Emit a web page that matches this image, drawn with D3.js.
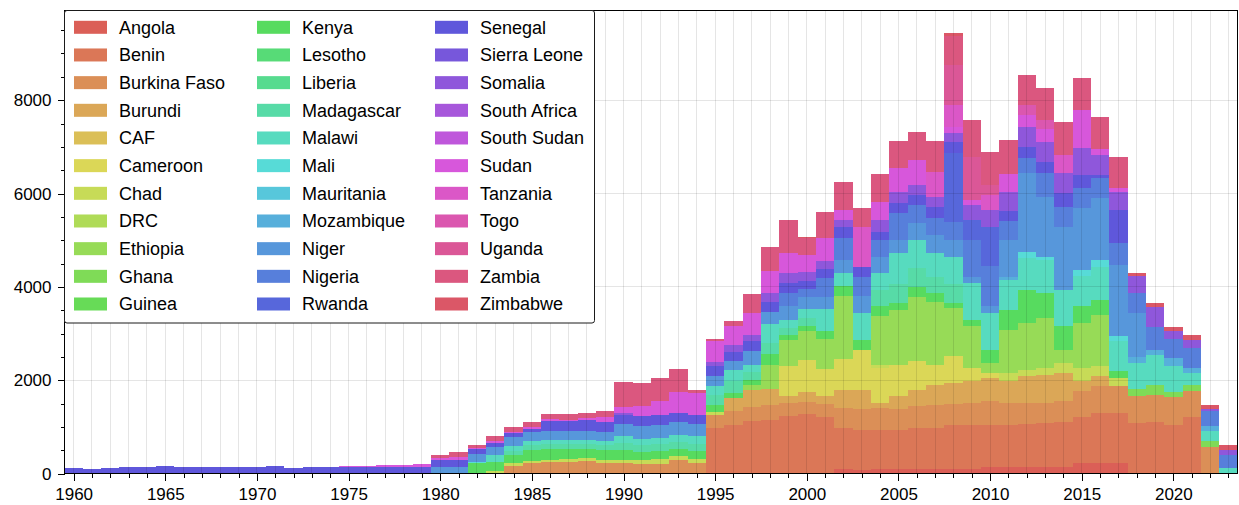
<!DOCTYPE html>
<html>
<head>
<meta charset="utf-8">
<script src="https://cdn.jsdelivr.net/npm/d3@7"></script>
<style>
  html, body { margin: 0; padding: 0; background: #fff; }
  svg { display: block; }
  text { font-family: "Liberation Sans", Arial, Helvetica, sans-serif; fill: #000; }
</style>
</head>
<body>
<svg id="chart" width="1239" height="505"></svg>
<script>
// Years shown on the x axis (one stacked bar per year)
const years = [
  1960,1961,1962,1963,1964,1965,1966,1967,1968,1969,
  1970,1971,1972,1973,1974,1975,1976,1977,1978,1979,
  1980,1981,1982,1983,1984,1985,1986,1987,1988,1989,
  1990,1991,1992,1993,1994,1995,1996,1997,1998,1999,
  2000,2001,2002,2003,2004,2005,2006,2007,2008,2009,
  2010,2011,2012,2013,2014,2015,2016,2017,2018,2019,
  2020,2021,2022,2023
];

const countries = [
  "Angola","Benin","Burkina Faso","Burundi","CAF","Cameroon","Chad","DRC","Ethiopia","Ghana","Guinea",
  "Kenya","Lesotho","Liberia","Madagascar","Malawi","Mali","Mauritania","Mozambique","Niger","Nigeria","Rwanda",
  "Senegal","Sierra Leone","Somalia","South Africa","South Sudan","Sudan","Tanzania","Togo","Uganda","Zambia","Zimbabwe"
];

// Yearly values per country, 1960 … 2023 (one line per decade)
const angola = [
  0,0,0,0,0,0,0,0,0,0, 0,0,0,0,0,0,0,0,0,0, 0,0,0,0,0,0,0,0,0,0, 0,0,0,0,0,0,0,0,0,0,
  20,20,93,90,93,93,93,93,93,93,
  150,150,150,150,150,221,235,235,0,0,
  0,0,0,0];
const benin = [
  0,0,0,0,0,0,0,0,0,0, 0,0,0,0,0,0,0,0,0,0, 0,0,0,0,0,0,0,0,0,0,
  0,0,0,0,0,983,1054,1125,1160,1232,
  1260,1191,890,857,855,855,890,890,962,962,
  905,905,926,940,955,990,1068,1068,1092,1113,
  1042,1206,0,0];
const burkinaFaso = [
  0,0,0,0,0,0,0,0,0,0, 0,0,0,0,0,0,0,0,0,0,
  0,0,0,0,164,235,249,263,271,235,
  235,200,200,285,221,285,285,306,310,285,
  250,285,420,430,463,430,460,500,450,470,
  499,463,442,427,449,556,570,570,571,571,
  592,571,578,0];
const burundi = [
  0,0,0,0,0,0,0,0,0,0, 0,0,0,0,0,0,0,0,0,0, 0,0,0,0,0,0,0,0,0,0,
  0,0,0,0,0,0,285,370,350,142,
  220,178,399,425,107,282,359,426,440,456,
  499,463,570,605,605,214,214,0,0,0,
  0,0,0,0];
const caf = [
  0,0,0,0,0,0,0,0,0,0, 0,0,0,0,0,0,0,0,0,0, 0,0,0,0,0,0,0,0,0,0, 0,0,0,0,0,0,0,0,0,0,
  0,0,0,0,0,0,0,0,0,0, 0,0,0,0,0,0,0,0,0,0, 0,0,0,0];
const cameroon = [
  0,0,0,0,0,0,0,0,0,0, 0,0,0,0,0,0,0,0,0,0, 0,0,0,0,0,0,0,0,0,0,
  0,0,0,0,0,0,0,0,0,641,
  690,570,650,855,748,677,605,427,570,285,
  107,0,0,0,0,0,0,0,0,0,
  0,0,0,0];
const chad = [
  0,0,0,0,0,0,0,0,0,0, 0,0,0,0,0,0,0,0,0,0,
  0,0,0,50,57,43,57,57,64,71,
  71,93,107,93,100,57,0,0,0,0,
  0,0,0,0,71,0,0,0,0,0,
  0,178,142,142,214,285,214,178,0,0,
  0,0,0,0];
const drc = [
  0,0,0,0,0,0,0,0,0,0, 0,0,0,0,0,0,0,0,0,0, 0,0,0,0,0,0,0,0,0,0, 0,0,0,0,0,0,0,0,0,0,
  0,0,0,0,0,0,0,0,0,0, 0,0,0,0,0,0,0,0,0,0, 0,0,0,0];
const ethiopia = [
  0,0,0,0,0,0,0,0,0,0, 0,0,0,0,0,0,0,0,0,0, 0,0,0,0,0,0,0,0,0,0,
  0,0,0,0,0,0,0,107,520,570,
  610,641,1345,0,1033,1175,1389,1353,1033,890,
  214,914,997,1068,285,962,1104,0,0,0,
  0,0,0,0];
const ghana = [
  0,0,0,0,0,0,0,0,0,0, 0,0,0,0,0,0,0,0,0,0, 0,0,0,0,0,0,0,0,0,0, 0,0,0,0,0,0,0,0,0,0,
  0,0,0,0,0,0,0,0,0,0,
  0,0,0,0,0,0,0,0,143,214,
  121,121,121,0];
const guinea = [
  0,0,0,0,0,0,0,0,0,0, 0,0,0,0,0,0,0,0,0,0, 0,0,0,0,0,0,0,0,0,0, 0,0,0,0,0,0,0,0,0,0,
  0,0,0,0,0,0,0,0,0,0, 0,0,0,0,0,0,0,0,0,0, 0,0,0,0];
const kenya = [
  0,0,0,0,0,0,0,0,0,0, 0,0,0,0,0,0,0,0,0,0,
  0,0,221,207,171,242,228,214,200,214,
  200,171,178,157,164,157,107,107,220,107,
  120,178,214,214,214,142,214,178,107,142,
  285,427,712,534,499,356,320,142,0,0,
  0,0,0,0];
const lesotho = [
  0,0,0,0,0,0,0,0,0,0, 0,0,0,0,0,0,0,0,0,0, 0,0,0,0,0,0,0,0,0,0, 0,0,0,0,0,0,0,0,0,0,
  0,0,0,0,0,0,0,0,0,0, 0,0,0,0,0,0,0,0,0,0, 0,0,0,0];
const liberia = [
  0,0,0,0,0,0,0,0,0,0, 0,0,0,0,0,0,0,0,0,0, 0,0,0,0,0,0,0,0,0,0, 0,0,0,0,0,0,0,0,0,0,
  0,0,0,0,0,0,0,0,0,0, 0,0,0,0,0,0,0,0,0,0, 0,0,0,0];
const madagascar = [
  0,0,0,0,0,0,0,0,0,0, 0,0,0,0,0,0,0,0,0,0,
  0,0,0,0,100,90,95,95,95,95,
  150,142,146,146,160,200,250,160,250,150,
  170,0,0,0,356,400,400,350,400,0,
  0,0,0,0,0,0,0,0,0,0,
  0,0,0,0];
const malawi = [
  0,0,0,0,0,0,0,0,0,0, 0,0,0,0,0,0,0,0,0,0,
  0,0,0,135,100,88,90,90,90,90,
  149,143,146,146,161,206,249,160,400,170,
  180,463,285,570,356,668,597,505,597,784,
  784,641,677,712,784,641,712,641,557,642,
  550,250,214,114];
const mali = [
  0,0,0,0,0,0,0,0,0,0, 0,0,0,0,0,0,0,0,0,0,
  0,0,29,0,0,0,0,0,0,0,
  0,0,0,0,0,0,0,0,0,0,
  0,0,0,0,0,0,0,0,0,0,
  0,0,142,71,0,142,142,107,0,0,
  0,0,0,0];
const mauritania = [
  0,0,0,0,0,0,0,0,0,0, 0,0,0,0,0,0,0,0,0,0, 0,0,0,0,0,0,0,0,0,0, 0,0,0,0,0,0,0,0,0,0,
  0,0,0,0,0,0,0,0,0,0, 0,0,0,0,0,0,0,0,0,0, 0,0,0,0];
const mozambique = [
  0,0,0,0,0,0,0,0,0,0, 0,0,0,0,0,0,0,0,0,0, 0,0,0,0,0,0,0,0,0,0, 0,0,0,0,0,0,0,0,0,0,
  0,0,0,0,0,0,0,0,0,0,
  0,71,0,0,0,0,0,0,143,121,
  164,121,107,0];
const niger = [
  0,0,0,0,0,0,0,0,0,0, 0,0,0,0,0,0,0,0,0,0,
  150,150,164,185,200,192,192,192,192,200,
  271,271,278,278,271,214,178,285,260,300,
  260,249,285,356,356,285,356,392,356,142,
  142,784,1674,1282,1353,1318,1318,1531,928,0,
  0,0,0,0];
const nigeria = [
  0,0,0,0,0,0,0,0,0,0, 0,0,0,0,0,0,0,0,0,0, 0,0,0,0,0,0,0,0,0,0,
  0,0,0,0,0,0,0,0,0,270,
  180,427,463,427,356,570,392,356,392,784,
  855,427,320,499,427,427,427,463,428,487,
  407,435,328,285];
const rwanda = [
  0,0,0,0,0,0,0,0,0,0, 0,0,0,0,0,0,0,0,0,0, 0,0,0,0,0,0,0,0,0,0, 0,0,0,0,0,0,0,0,0,0,
  0,0,0,0,0,0,0,0,1460,427,
  855,0,0,0,0,0,0,0,0,0,
  0,0,0,0];
const senegal = [
  130,110,120,145,145,160,145,145,145,145,
  145,160,125,145,145,150,150,150,150,155,
  143,143,107,85,71,71,214,214,235,200,
  192,214,214,200,192,200,192,214,200,214,
  170,178,249,214,178,214,214,249,249,0,
  0,214,249,249,285,285,71,712,0,0,
  0,0,0,0];
const sierraLeone = [
  0,0,0,0,0,0,0,0,0,0, 0,0,0,0,0,0,0,0,0,0, 0,0,0,0,0,0,0,0,0,0, 0,0,0,0,0,0,0,0,0,0,
  0,0,0,0,0,0,0,0,0,0, 0,0,0,0,0,0,0,0,0,0, 0,0,0,0];
const somalia = [
  0,0,0,0,0,0,0,0,0,0, 0,0,0,0,0,0,0,0,0,0, 0,0,0,0,0,0,0,0,0,0,
  40,0,0,0,0,100,164,142,200,214,
  200,178,142,0,249,249,214,214,178,320,
  356,392,427,427,427,570,427,392,371,428,
  178,171,29,107];
const southAfrica = [
  0,0,0,0,0,0,0,0,0,0, 0,0,0,0,0,0,0,0,0,0, 0,0,0,0,0,0,0,0,0,0, 0,0,0,0,0,0,0,0,0,0,
  0,0,0,0,0,0,0,0,0,0, 0,0,0,0,0,0,0,0,0,0, 0,0,0,0];
const southSudan = [
  0,0,0,0,0,0,0,0,0,0, 0,0,0,0,0,0,0,0,0,0, 0,0,0,0,0,0,0,0,0,0, 0,0,0,0,0,0,0,0,0,0,
  0,0,0,0,0,0,0,0,0,0, 0,0,0,0,0,0,0,0,0,0, 0,0,0,0];
const sudan = [
  0,0,0,0,0,0,0,0,0,0,
  0,0,0,0,0,25,25,40,40,45,
  43,70,36,36,28,43,50,36,50,110,
  124,228,285,442,463,434,406,463,470,427,
  360,499,214,0,392,499,534,0,142,107,
  0,392,249,285,0,819,142,71,0,0,
  0,0,0,0];
const tanzania = [
  0,0,0,0,0,0,0,0,0,0, 0,0,0,0,0,0,0,0,0,0, 0,0,0,0,0,0,0,0,0,0, 0,0,0,0,0,0,0,0,0,0,
  0,0,0,855,0,0,0,534,463,0,
  320,0,0,0,392,0,0,0,0,0,
  0,0,0,0];
const togo = [
  0,0,0,0,0,0,0,0,0,0, 0,0,0,0,0,0,0,0,0,0, 0,0,0,0,0,0,0,0,0,0, 0,0,0,0,0,0,0,0,0,0,
  0,0,0,0,0,0,0,0,0,0,
  0,0,214,178,0,0,0,0,0,0,
  0,0,0,0];
const uganda = [
  0,0,0,0,0,0,0,0,0,0, 0,0,0,0,0,0,0,0,0,0, 0,0,0,0,0,0,0,0,0,0, 0,0,0,0,0,0,0,0,0,0,
  0,0,0,0,0,0,0,0,855,926,
  214,0,0,0,0,0,0,0,0,0,
  0,0,0,0];
const zambia = [
  0,0,0,0,0,0,0,0,0,0, 0,0,0,0,0,0,0,0,0,0,
  57,100,50,121,114,114,107,121,107,121,
  540,485,499,506,71,50,93,413,510,712,
  356,556,605,406,584,591,591,655,620,784,
  712,727,641,698,712,698,677,677,0,0,
  0,0,0,0];
const zimbabwe = [
  0,0,0,0,0,0,0,0,0,0, 0,0,0,0,0,0,0,0,0,0, 0,0,0,0,0,0,0,0,0,0, 0,0,0,0,0,0,0,0,0,0,
  33,0,0,0,0,0,0,0,71,0,
  0,0,0,0,0,0,0,0,71,71,
  93,93,93,107];

const seriesValues = [
  angola, benin, burkinaFaso, burundi, caf, cameroon, chad, drc, ethiopia, ghana, guinea,
  kenya, lesotho, liberia, madagascar, malawi, mali, mauritania, mozambique, niger, nigeria, rwanda,
  senegal, sierraLeone, somalia, southAfrica, southSudan, sudan, tanzania, togo, uganda, zambia, zimbabwe
];

const xTicks = [1960, 1965, 1970, 1975, 1980, 1985, 1990, 1995, 2000, 2005, 2010, 2015, 2020];
const yTicks = [0, 2000, 4000, 6000, 8000];
const yMinorTicks = [500, 1000, 1500, 2500, 3000, 3500, 4500, 5000, 5500, 6500, 7000, 7500, 8500, 9000, 9500];

// ---- layout ----
const svg = d3.select("#chart");
const area = { left: 64.5, right: 1237.5, top: 10.5, bottom: 473.8 };

const x = d3.scaleLinear().domain([1959.5, 2023.5]).range([area.left, area.right]);
const y = d3.scaleLinear().domain([0, 9920]).range([area.bottom, area.top]);

// evenly spaced HLS hues, one per country
const color = d3.scaleOrdinal()
  .domain(countries)
  .range(countries.map((c, i) => d3.hsl(((i / countries.length + 0.01) % 1) * 360, 0.65, 0.6).formatHex()));

// one row per year, one column per country
const table = years.map((yr, j) => {
  const row = { year: yr };
  countries.forEach((c, i) => { row[c] = seriesValues[i][j]; });
  return row;
});
const stacked = d3.stack().keys(countries)(table);

// ---- stacked bars ----
svg.append("g")
  .selectAll("g")
  .data(stacked)
  .join("g")
  .attr("fill", d => color(d.key))
  .selectAll("rect")
  .data(d => d.filter(p => p[1] > p[0]))
  .join("rect")
  .attr("x", p => x(p.data.year - 0.5))
  .attr("width", p => x(p.data.year + 0.5) - x(p.data.year - 0.5))
  .attr("y", p => y(p[1]))
  .attr("height", p => y(p[0]) - y(p[1]))
  .attr("shape-rendering", "crispEdges");

// ---- grid (drawn over the bars) ----
const grid = svg.append("g")
  .attr("stroke", "#000")
  .attr("stroke-opacity", 0.1)
  .attr("stroke-width", 1)
  .attr("shape-rendering", "crispEdges");
grid.selectAll("line.gv")
  .data(years)
  .join("line")
  .attr("class", "gv")
  .attr("x1", d => x(d)).attr("x2", d => x(d))
  .attr("y1", area.top).attr("y2", area.bottom);
grid.selectAll("line.gh")
  .data(yTicks.filter(v => v > 0))
  .join("line")
  .attr("class", "gh")
  .attr("x1", area.left).attr("x2", area.right)
  .attr("y1", d => y(d)).attr("y2", d => y(d));

// ---- axes ----
function styleAxis(g) {
  g.select(".domain").remove();
  g.selectAll(".tick line").attr("stroke", "#000").attr("shape-rendering", "crispEdges");
  g.selectAll(".tick text").attr("font-size", 17).attr("font-family", "'Liberation Sans', Arial, sans-serif").attr("fill", "#000");
  g.attr("font-size", null).attr("font-family", null);
}

svg.append("g")
  .attr("transform", `translate(0,${area.bottom})`)
  .call(d3.axisBottom(x).tickValues(years.filter(v => !xTicks.includes(v))).tickSize(4).tickFormat(""))
  .call(styleAxis);
svg.append("g")
  .attr("transform", `translate(0,${area.bottom})`)
  .call(d3.axisBottom(x).tickValues(xTicks).tickSize(7).tickPadding(7).tickFormat(d3.format("d")))
  .call(styleAxis);

svg.append("g")
  .attr("transform", `translate(${area.left},0)`)
  .call(d3.axisLeft(y).tickValues(yMinorTicks).tickSize(4).tickFormat(""))
  .call(styleAxis);
svg.append("g")
  .attr("transform", `translate(${area.left},0)`)
  .call(d3.axisLeft(y).tickValues(yTicks).tickSize(7).tickPadding(6).tickFormat(d3.format("d")))
  .call(styleAxis);

// frame around the plotting area
svg.append("rect")
  .attr("x", area.left).attr("y", area.top)
  .attr("width", area.right - area.left).attr("height", area.bottom - area.top)
  .attr("fill", "none").attr("stroke", "#000").attr("stroke-width", 1)
  .attr("shape-rendering", "crispEdges");

// ---- legend ----
const legend = svg.append("g");
legend.append("rect")
  .attr("x", 64.5).attr("y", 10.5)
  .attr("width", 530).attr("height", 312.5)
  .attr("rx", 2.5)
  .attr("fill", "#fff").attr("stroke", "#1a1a1a").attr("stroke-width", 1);

const legendCols = [ { sw: 74, tx: 119 }, { sw: 257, tx: 302 }, { sw: 435, tx: 480 } ];
const perCol = 11;
const entries = legend.selectAll("g.entry")
  .data(countries)
  .join("g")
  .attr("class", "entry")
  .attr("transform", (c, i) => `translate(0,${27.3 + (i % perCol) * 27.67})`);
entries.append("rect")
  .attr("x", (c, i) => legendCols[Math.floor(i / perCol)].sw)
  .attr("y", -6.5)
  .attr("width", 33).attr("height", 13)
  .attr("fill", c => color(c));
entries.append("text")
  .attr("x", (c, i) => legendCols[Math.floor(i / perCol)].tx)
  .attr("dy", "0.35em")
  .attr("font-size", 18)
  .text(c => c);
</script>
</body>
</html>
